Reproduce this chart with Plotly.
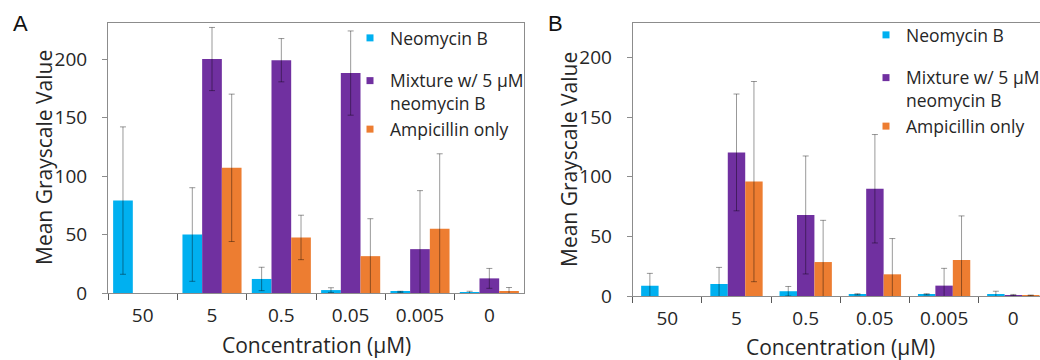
import plotly.graph_objects as go

# ---------------- data ----------------
categories = ["50", "5", "0.5", "0.05", "0.005", "0"]
series_names = ["Neomycin B", "Mixture w/ 5 µM<br>neomycin B", "Ampicillin only"]
x_title = "Concentration (µM)"
y_title = "Mean Grayscale Value"

# Panel A
neo_a = [79, 50, 12, 2.5, 1, 0.5]
neo_a_err = [63, 40, 10, 2, 0.5, 1]
mix_a = [None, 200, 199, 188, 37.5, 12.5]
mix_a_err = [None, 27, 18.5, 36, 50, 8.5]
amp_a = [None, 107, 47.5, 31.5, 55, 1.7]
amp_a_err = [None, 63, 19, 32, 64, 3]

# Panel B
neo_b = [8.5, 10, 4, 1.4, 1.4, 1.5]
neo_b_err = [10.5, 14, 4, 0.5, 0.5, 2.5]
mix_b = [None, 120.5, 68, 90, 8.7, 0.8]
mix_b_err = [None, 49, 49.5, 45.5, 14.5, 0.5]
amp_b = [None, 96, 28.5, 18.2, 30.2, 0.5]
amp_b_err = [None, 84, 35, 30, 37, 0.3]

y_ticks = [0, 50, 100, 150, 200]

colors = ["#00B0F0", "#7030A0", "#ED7D31"]
FONT = "Open Sans"
W, H = 1040, 360

def px_x(p):
    return p / W

def px_y(p):
    return 1 - p / H

fig = go.Figure()

err_col = "rgba(0,0,0,0.4)"

def add_panel(vals, errs, xa, ya, width, legend):
    n = len(vals)
    for i, (v, e) in enumerate(zip(vals, errs)):
        fig.add_trace(go.Bar(
            x=categories, y=v, name=series_names[i].replace("<br>", " "),
            marker=dict(color=colors[i], line=dict(width=0)),
            width=width, offset=(i - n / 2) * width,
            error_y=dict(type="data", array=e, visible=True, color=err_col,
                         thickness=1, width=3),
            xaxis=xa, yaxis=ya, showlegend=False,
        ))
    for i in range(n):
        fig.add_trace(go.Scatter(
            x=[None], y=[None], mode="markers", name=series_names[i],
            marker=dict(symbol="square", size=7, color=colors[i]),
            legendgroup=("g1" if i == 0 else "g2") + legend,
            legend=legend, xaxis=xa, yaxis=ya, showlegend=True,
        ))

add_panel([neo_a, mix_a, amp_a], [neo_a_err, mix_a_err, amp_a_err], "x", "y", 0.284, "legend")
add_panel([neo_b, mix_b, amp_b], [neo_b_err, mix_b_err, amp_b_err], "x2", "y2", 0.252, "legend2")

axis_font = dict(family=FONT, size=19, color="#262626")
frame_col = "#8c8c8c"

xcommon = dict(type="category", tickson="boundaries", ticks="outside", ticklen=6,
               tickcolor="#595959", showline=True, linecolor=frame_col, linewidth=1,
               showgrid=False, zeroline=False, tickfont=axis_font, automargin=False,
               ticklabelstandoff=5)
ycommon = dict(showgrid=False, zeroline=False, showline=True, linecolor=frame_col,
               linewidth=1, ticks="outside", ticklen=5, tickcolor="#8c8c8c",
               tickvals=y_ticks, tickfont=axis_font, ticklabelstandoff=11,
               automargin=False)

cat_w_b = 69.2
legend_common = dict(xanchor="left", yanchor="top",
                     font=dict(family=FONT, size=17.5, color="#262626"),
                     tracegroupgap=17, valign="top", bgcolor="rgba(0,0,0,0)",
                     itemclick=False, itemdoubleclick=False)

def ann(text, x, y, size, angle=0, family=FONT, color="#262626"):
    return dict(text=text, x=px_x(x), y=px_y(y), xref="paper", yref="paper",
                xanchor="center", yanchor="middle", showarrow=False,
                textangle=angle, font=dict(family=family, size=size, color=color))

fig.update_layout(
    width=W, height=H,
    margin=dict(l=0, r=0, t=0, b=0, autoexpand=False),
    paper_bgcolor="white", plot_bgcolor="white",
    barmode="group",
    font=dict(family=FONT, color="#262626"),
    xaxis=dict(xcommon, domain=[px_x(108), px_x(524)], range=[-0.5, 5.5],
               anchor="y", mirror=True),
    yaxis=dict(ycommon, domain=[px_y(293), px_y(23)], range=[0, 230.8],
               anchor="x", mirror=True),
    xaxis2=dict(xcommon, domain=[px_x(632.7), 1.0],
                range=[-0.5, -0.5 + (W - 632.7) / cat_w_b],
                anchor="y2", mirror=True),
    yaxis2=dict(ycommon, domain=[px_y(296), px_y(23)], range=[0, 229.1],
                anchor="x2", mirror=False),
    legend=dict(legend_common, x=px_x(350), y=px_y(20)),
    legend2=dict(legend_common, x=px_x(866), y=px_y(17)),
    annotations=[
        ann("A", 20, 23, 22, family="Liberation Sans", color="#111"),
        ann("B", 555, 24, 22, family="Liberation Sans", color="#111"),
        ann(y_title, 44, 158, 21, angle=-90),
        ann(y_title, 569, 160, 21, angle=-90),
        ann(x_title, 316, 345, 21),
        ann(x_title, 840, 346.5, 21),
    ],
)

fig.write_html("out.html", config={"displayModeBar": False},
               post_script="document.body.style.margin='0';document.body.style.overflow='hidden';")
